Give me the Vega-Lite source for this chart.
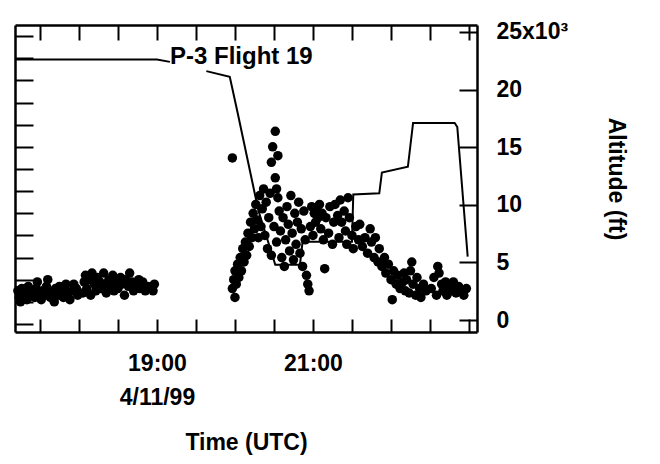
{
  "$schema": "https://vega.github.io/schema/vega-lite/v6.json",
  "autosize": "none",
  "width": 462,
  "height": 307,
  "padding": {"left": 15, "top": 25, "right": 183, "bottom": 132},
  "background": "white",
  "config": {
    "view": {"stroke": null},
    "axis": {
      "grid": false,
      "domainColor": "black",
      "domainWidth": 2.5,
      "tickColor": "black",
      "tickWidth": 2,
      "labelFont": "Liberation Sans",
      "labelFontSize": 23,
      "labelFontWeight": "bold",
      "labelColor": "black",
      "titleFont": "Liberation Sans",
      "titleFontSize": 23,
      "titleFontWeight": "bold",
      "titleColor": "black",
      "labelFlush": false,
      "labelOverlap": false
    }
  },
  "datasets": {
    "altitude": [
      {"t": "1999-04-11T17:11:00Z", "alt": 22600, "seg": 1},
      {"t": "1999-04-11T19:00:00Z", "alt": 22600, "seg": 1},
      {"t": "1999-04-11T19:10:00Z", "alt": 22400, "seg": 1},
      {"t": "1999-04-11T19:38:00Z", "alt": 21600, "seg": 2},
      {"t": "1999-04-11T19:56:00Z", "alt": 21100, "seg": 2},
      {"t": "1999-04-11T20:02:00Z", "alt": 18000, "seg": 2},
      {"t": "1999-04-11T20:18:00Z", "alt": 9500, "seg": 2},
      {"t": "1999-04-11T20:31:00Z", "alt": 4800, "seg": 2},
      {"t": "1999-04-11T20:50:00Z", "alt": 4800, "seg": 2},
      {"t": "1999-04-11T20:52:00Z", "alt": 6800, "seg": 2},
      {"t": "1999-04-11T21:30:00Z", "alt": 6800, "seg": 2},
      {"t": "1999-04-11T21:31:00Z", "alt": 10900, "seg": 2},
      {"t": "1999-04-11T21:51:00Z", "alt": 11000, "seg": 2},
      {"t": "1999-04-11T21:53:00Z", "alt": 12800, "seg": 2},
      {"t": "1999-04-11T22:13:00Z", "alt": 13300, "seg": 2},
      {"t": "1999-04-11T22:17:00Z", "alt": 17100, "seg": 2},
      {"t": "1999-04-11T22:49:00Z", "alt": 17100, "seg": 2},
      {"t": "1999-04-11T22:51:00Z", "alt": 16750, "seg": 2},
      {"t": "1999-04-11T22:59:00Z", "alt": 5500, "seg": 2}
    ],
    "label": [
      {"t": "1999-04-11T19:10:00Z", "alt": 22800, "text": "P-3 Flight 19"}
    ],
    "obs": [
      {"t": "1999-04-11T17:13:00Z", "v": 1.5}, {"t": "1999-04-11T17:14:00Z", "v": 1.2}, {"t": "1999-04-11T17:15:00Z", "v": 1.0},
      {"t": "1999-04-11T17:16:00Z", "v": 1.6}, {"t": "1999-04-11T17:17:00Z", "v": 1.3}, {"t": "1999-04-11T17:19:00Z", "v": 1.4},
      {"t": "1999-04-11T17:20:00Z", "v": 1.1}, {"t": "1999-04-11T17:21:00Z", "v": 1.7}, {"t": "1999-04-11T17:23:00Z", "v": 1.3},
      {"t": "1999-04-11T17:24:00Z", "v": 1.5}, {"t": "1999-04-11T17:26:00Z", "v": 1.2}, {"t": "1999-04-11T17:27:00Z", "v": 1.6},
      {"t": "1999-04-11T17:28:00Z", "v": 1.9}, {"t": "1999-04-11T17:29:00Z", "v": 1.4}, {"t": "1999-04-11T17:31:00Z", "v": 1.1},
      {"t": "1999-04-11T17:32:00Z", "v": 1.5}, {"t": "1999-04-11T17:34:00Z", "v": 1.3}, {"t": "1999-04-11T17:35:00Z", "v": 1.7},
      {"t": "1999-04-11T17:36:00Z", "v": 2.0}, {"t": "1999-04-11T17:37:00Z", "v": 1.5}, {"t": "1999-04-11T17:38:00Z", "v": 1.2},
      {"t": "1999-04-11T17:40:00Z", "v": 1.4}, {"t": "1999-04-11T17:41:00Z", "v": 1.0}, {"t": "1999-04-11T17:42:00Z", "v": 1.6},
      {"t": "1999-04-11T17:44:00Z", "v": 1.3}, {"t": "1999-04-11T17:45:00Z", "v": 1.7}, {"t": "1999-04-11T17:46:00Z", "v": 1.5},
      {"t": "1999-04-11T17:48:00Z", "v": 1.2}, {"t": "1999-04-11T17:49:00Z", "v": 1.6}, {"t": "1999-04-11T17:50:00Z", "v": 1.8},
      {"t": "1999-04-11T17:52:00Z", "v": 1.4}, {"t": "1999-04-11T17:53:00Z", "v": 1.1}, {"t": "1999-04-11T17:55:00Z", "v": 1.5},
      {"t": "1999-04-11T17:56:00Z", "v": 1.8}, {"t": "1999-04-11T17:58:00Z", "v": 1.6}, {"t": "1999-04-11T17:59:00Z", "v": 1.3},
      {"t": "1999-04-11T18:03:00Z", "v": 1.4}, {"t": "1999-04-11T18:04:00Z", "v": 1.9}, {"t": "1999-04-11T18:05:00Z", "v": 2.2},
      {"t": "1999-04-11T18:06:00Z", "v": 1.6}, {"t": "1999-04-11T18:08:00Z", "v": 2.0}, {"t": "1999-04-11T18:09:00Z", "v": 1.3},
      {"t": "1999-04-11T18:10:00Z", "v": 2.3}, {"t": "1999-04-11T18:12:00Z", "v": 1.8}, {"t": "1999-04-11T18:13:00Z", "v": 1.5},
      {"t": "1999-04-11T18:14:00Z", "v": 2.1}, {"t": "1999-04-11T18:16:00Z", "v": 1.9}, {"t": "1999-04-11T18:17:00Z", "v": 1.6},
      {"t": "1999-04-11T18:19:00Z", "v": 2.3}, {"t": "1999-04-11T18:20:00Z", "v": 1.8}, {"t": "1999-04-11T18:21:00Z", "v": 1.4},
      {"t": "1999-04-11T18:23:00Z", "v": 2.0}, {"t": "1999-04-11T18:24:00Z", "v": 1.7}, {"t": "1999-04-11T18:26:00Z", "v": 2.2},
      {"t": "1999-04-11T18:27:00Z", "v": 1.5}, {"t": "1999-04-11T18:29:00Z", "v": 1.9}, {"t": "1999-04-11T18:30:00Z", "v": 1.6},
      {"t": "1999-04-11T18:32:00Z", "v": 2.1}, {"t": "1999-04-11T18:33:00Z", "v": 1.8}, {"t": "1999-04-11T18:35:00Z", "v": 1.3},
      {"t": "1999-04-11T18:36:00Z", "v": 2.0}, {"t": "1999-04-11T18:38:00Z", "v": 1.7}, {"t": "1999-04-11T18:39:00Z", "v": 2.3},
      {"t": "1999-04-11T18:41:00Z", "v": 1.9}, {"t": "1999-04-11T18:42:00Z", "v": 1.5}, {"t": "1999-04-11T18:44:00Z", "v": 1.8},
      {"t": "1999-04-11T18:46:00Z", "v": 2.0}, {"t": "1999-04-11T18:47:00Z", "v": 1.6}, {"t": "1999-04-11T18:49:00Z", "v": 1.9},
      {"t": "1999-04-11T18:51:00Z", "v": 1.5}, {"t": "1999-04-11T18:53:00Z", "v": 1.7}, {"t": "1999-04-11T18:57:00Z", "v": 1.5},
      {"t": "1999-04-11T18:58:00Z", "v": 1.8},
      {"t": "1999-04-11T19:58:00Z", "v": 7.5},
      {"t": "1999-04-11T19:58:00Z", "v": 1.6}, {"t": "1999-04-11T19:59:00Z", "v": 2.0}, {"t": "1999-04-11T20:00:00Z", "v": 1.2},
      {"t": "1999-04-11T20:00:00Z", "v": 2.4}, {"t": "1999-04-11T20:01:00Z", "v": 1.8}, {"t": "1999-04-11T20:02:00Z", "v": 2.7},
      {"t": "1999-04-11T20:03:00Z", "v": 2.1}, {"t": "1999-04-11T20:04:00Z", "v": 3.0}, {"t": "1999-04-11T20:05:00Z", "v": 2.4},
      {"t": "1999-04-11T20:06:00Z", "v": 3.4}, {"t": "1999-04-11T20:07:00Z", "v": 2.8}, {"t": "1999-04-11T20:08:00Z", "v": 3.7},
      {"t": "1999-04-11T20:09:00Z", "v": 3.1}, {"t": "1999-04-11T20:10:00Z", "v": 4.1}, {"t": "1999-04-11T20:11:00Z", "v": 3.5},
      {"t": "1999-04-11T20:12:00Z", "v": 4.6}, {"t": "1999-04-11T20:13:00Z", "v": 3.9}, {"t": "1999-04-11T20:14:00Z", "v": 5.0},
      {"t": "1999-04-11T20:15:00Z", "v": 4.3}, {"t": "1999-04-11T20:16:00Z", "v": 5.4}, {"t": "1999-04-11T20:17:00Z", "v": 4.7},
      {"t": "1999-04-11T20:18:00Z", "v": 3.9}, {"t": "1999-04-11T20:19:00Z", "v": 5.8}, {"t": "1999-04-11T20:20:00Z", "v": 4.4},
      {"t": "1999-04-11T20:21:00Z", "v": 5.2}, {"t": "1999-04-11T20:22:00Z", "v": 6.1}, {"t": "1999-04-11T20:23:00Z", "v": 4.0},
      {"t": "1999-04-11T20:24:00Z", "v": 5.5}, {"t": "1999-04-11T20:25:00Z", "v": 3.4}, {"t": "1999-04-11T20:26:00Z", "v": 4.8},
      {"t": "1999-04-11T20:27:00Z", "v": 5.9}, {"t": "1999-04-11T20:28:00Z", "v": 3.1}, {"t": "1999-04-11T20:28:00Z", "v": 7.3},
      {"t": "1999-04-11T20:29:00Z", "v": 8.0}, {"t": "1999-04-11T20:31:00Z", "v": 8.7}, {"t": "1999-04-11T20:33:00Z", "v": 7.6},
      {"t": "1999-04-11T20:31:00Z", "v": 6.6}, {"t": "1999-04-11T20:32:00Z", "v": 6.1}, {"t": "1999-04-11T20:33:00Z", "v": 5.7},
      {"t": "1999-04-11T20:30:00Z", "v": 4.4}, {"t": "1999-04-11T20:32:00Z", "v": 3.7}, {"t": "1999-04-11T20:34:00Z", "v": 5.1},
      {"t": "1999-04-11T20:35:00Z", "v": 4.2}, {"t": "1999-04-11T20:36:00Z", "v": 3.0}, {"t": "1999-04-11T20:37:00Z", "v": 4.8},
      {"t": "1999-04-11T20:38:00Z", "v": 2.6}, {"t": "1999-04-11T20:39:00Z", "v": 3.8}, {"t": "1999-04-11T20:40:00Z", "v": 5.3},
      {"t": "1999-04-11T20:41:00Z", "v": 4.5}, {"t": "1999-04-11T20:42:00Z", "v": 3.3}, {"t": "1999-04-11T20:43:00Z", "v": 5.8},
      {"t": "1999-04-11T20:44:00Z", "v": 4.1}, {"t": "1999-04-11T20:45:00Z", "v": 2.9}, {"t": "1999-04-11T20:46:00Z", "v": 5.0},
      {"t": "1999-04-11T20:47:00Z", "v": 3.6}, {"t": "1999-04-11T20:48:00Z", "v": 4.6}, {"t": "1999-04-11T20:49:00Z", "v": 5.5},
      {"t": "1999-04-11T20:50:00Z", "v": 3.2}, {"t": "1999-04-11T20:51:00Z", "v": 4.3}, {"t": "1999-04-11T20:52:00Z", "v": 2.6},
      {"t": "1999-04-11T20:53:00Z", "v": 5.1}, {"t": "1999-04-11T20:54:00Z", "v": 3.8}, {"t": "1999-04-11T20:55:00Z", "v": 2.2},
      {"t": "1999-04-11T20:56:00Z", "v": 1.8}, {"t": "1999-04-11T20:57:00Z", "v": 1.5}, {"t": "1999-04-11T20:58:00Z", "v": 4.4},
      {"t": "1999-04-11T20:59:00Z", "v": 5.3}, {"t": "1999-04-11T21:00:00Z", "v": 4.0}, {"t": "1999-04-11T21:01:00Z", "v": 5.0},
      {"t": "1999-04-11T21:02:00Z", "v": 4.6}, {"t": "1999-04-11T21:03:00Z", "v": 5.2}, {"t": "1999-04-11T21:04:00Z", "v": 4.8},
      {"t": "1999-04-11T21:05:00Z", "v": 5.4}, {"t": "1999-04-11T21:06:00Z", "v": 4.3}, {"t": "1999-04-11T21:07:00Z", "v": 5.0},
      {"t": "1999-04-11T21:08:00Z", "v": 3.8}, {"t": "1999-04-11T21:09:00Z", "v": 2.5}, {"t": "1999-04-11T21:10:00Z", "v": 4.8},
      {"t": "1999-04-11T21:12:00Z", "v": 4.1}, {"t": "1999-04-11T21:13:00Z", "v": 5.3}, {"t": "1999-04-11T21:15:00Z", "v": 3.6},
      {"t": "1999-04-11T21:16:00Z", "v": 4.6}, {"t": "1999-04-11T21:17:00Z", "v": 5.4}, {"t": "1999-04-11T21:19:00Z", "v": 4.9},
      {"t": "1999-04-11T21:20:00Z", "v": 3.9}, {"t": "1999-04-11T21:21:00Z", "v": 5.6}, {"t": "1999-04-11T21:22:00Z", "v": 4.6},
      {"t": "1999-04-11T21:24:00Z", "v": 5.1}, {"t": "1999-04-11T21:25:00Z", "v": 4.2}, {"t": "1999-04-11T21:26:00Z", "v": 3.6},
      {"t": "1999-04-11T21:27:00Z", "v": 5.7}, {"t": "1999-04-11T21:28:00Z", "v": 4.8}, {"t": "1999-04-11T21:30:00Z", "v": 4.0},
      {"t": "1999-04-11T21:31:00Z", "v": 3.4}, {"t": "1999-04-11T21:33:00Z", "v": 4.4}, {"t": "1999-04-11T21:35:00Z", "v": 3.8},
      {"t": "1999-04-11T21:36:00Z", "v": 4.5}, {"t": "1999-04-11T21:38:00Z", "v": 3.5}, {"t": "1999-04-11T21:40:00Z", "v": 3.9},
      {"t": "1999-04-11T21:42:00Z", "v": 3.2}, {"t": "1999-04-11T21:44:00Z", "v": 4.3}, {"t": "1999-04-11T21:45:00Z", "v": 3.7},
      {"t": "1999-04-11T21:47:00Z", "v": 3.0}, {"t": "1999-04-11T21:48:00Z", "v": 3.9}, {"t": "1999-04-11T21:50:00Z", "v": 2.8},
      {"t": "1999-04-11T21:51:00Z", "v": 3.4}, {"t": "1999-04-11T21:53:00Z", "v": 2.6}, {"t": "1999-04-11T21:55:00Z", "v": 3.0},
      {"t": "1999-04-11T21:56:00Z", "v": 2.3}, {"t": "1999-04-11T21:58:00Z", "v": 2.7}, {"t": "1999-04-11T22:00:00Z", "v": 2.0},
      {"t": "1999-04-11T22:01:00Z", "v": 1.1}, {"t": "1999-04-11T22:02:00Z", "v": 2.4}, {"t": "1999-04-11T22:04:00Z", "v": 1.8},
      {"t": "1999-04-11T22:05:00Z", "v": 2.2}, {"t": "1999-04-11T22:07:00Z", "v": 1.6},
      {"t": "1999-04-11T22:09:00Z", "v": 1.9}, {"t": "1999-04-11T22:10:00Z", "v": 2.3}, {"t": "1999-04-11T22:11:00Z", "v": 1.5},
      {"t": "1999-04-11T22:12:00Z", "v": 2.0}, {"t": "1999-04-11T22:14:00Z", "v": 1.4}, {"t": "1999-04-11T22:15:00Z", "v": 2.4},
      {"t": "1999-04-11T22:16:00Z", "v": 2.8}, {"t": "1999-04-11T22:17:00Z", "v": 1.8}, {"t": "1999-04-11T22:19:00Z", "v": 1.3},
      {"t": "1999-04-11T22:20:00Z", "v": 2.1}, {"t": "1999-04-11T22:22:00Z", "v": 1.6}, {"t": "1999-04-11T22:23:00Z", "v": 1.2},
      {"t": "1999-04-11T22:25:00Z", "v": 1.8}, {"t": "1999-04-11T22:27:00Z", "v": 1.5},
      {"t": "1999-04-11T22:31:00Z", "v": 1.6}, {"t": "1999-04-11T22:33:00Z", "v": 2.1}, {"t": "1999-04-11T22:35:00Z", "v": 1.3},
      {"t": "1999-04-11T22:36:00Z", "v": 2.6}, {"t": "1999-04-11T22:37:00Z", "v": 2.3}, {"t": "1999-04-11T22:39:00Z", "v": 1.8},
      {"t": "1999-04-11T22:40:00Z", "v": 1.5}, {"t": "1999-04-11T22:42:00Z", "v": 1.9}, {"t": "1999-04-11T22:43:00Z", "v": 1.3},
      {"t": "1999-04-11T22:45:00Z", "v": 1.7}, {"t": "1999-04-11T22:47:00Z", "v": 1.5}, {"t": "1999-04-11T22:48:00Z", "v": 1.9},
      {"t": "1999-04-11T22:50:00Z", "v": 1.4}, {"t": "1999-04-11T22:52:00Z", "v": 1.7}, {"t": "1999-04-11T22:54:00Z", "v": 1.5},
      {"t": "1999-04-11T22:56:00Z", "v": 1.3}, {"t": "1999-04-11T22:58:00Z", "v": 1.6}
    ]
  },
  "layer": [
    {
      "data": {"name": "altitude"},
      "mark": {"type": "line", "color": "black", "strokeWidth": 2},
      "encoding": {
        "x": {
          "field": "t",
          "type": "temporal",
          "scale": {"type": "utc", "domain": [923850648000, 923871970000]},
          "axis": {
            "orient": "bottom",
            "title": "Time (UTC)",
            "titlePadding": 22,
            "values": [923851800000, 923853600000, 923855400000, 923857200000, 923859000000, 923860800000, 923862600000, 923864400000, 923866200000, 923868000000, 923869800000, 923871600000],
            "labelExpr": "utchours(datum.value) == 19 && utcminutes(datum.value) == 0 ? ['19:00', '4/11/99'] : (utchours(datum.value) == 21 && utcminutes(datum.value) == 0 ? '21:00' : '')",
            "labelLineHeight": 34,
            "tickSize": -13,
            "labelPadding": 33,
            "encode": {"ticks": {"update": {"y2": {"signal": "utcminutes(datum.value) == 30 ? -8 : -13"}}}}
          }
        },
        "y": {
          "field": "alt",
          "type": "quantitative",
          "scale": {"domain": [-1040, 25600], "nice": false, "zero": false},
          "axis": {
            "orient": "right",
            "title": "Altitude (ft)",
            "titleAngle": 90,
            "titlePadding": 36,
            "values": [0, 5000, 10000, 15000, 20000, 25000],
            "labelExpr": "datum.value == 25000 ? '25x10³' : format(datum.value / 1000, 'd')",
            "tickSize": -18,
            "labelPadding": 37,
            "labelAlign": "left"
          }
        },
        "detail": {"field": "seg", "type": "nominal"}
      }
    },
    {
      "data": {"name": "obs"},
      "mark": {"type": "point", "filled": true, "shape": "circle", "size": 90, "color": "black", "opacity": 1},
      "encoding": {
        "x": {
          "field": "t",
          "type": "temporal",
          "axis": {
            "orient": "top",
            "title": null,
            "labels": false,
            "values": [923851800000, 923853600000, 923855400000, 923857200000, 923859000000, 923860800000, 923862600000, 923864400000, 923866200000, 923868000000, 923869800000, 923871600000],
            "tickSize": -15,
            "encode": {"ticks": {"update": {"y2": {"signal": "utcminutes(datum.value) == 30 ? 10 : 16"}}}}
          }
        },
        "y": {
          "field": "v",
          "type": "quantitative",
          "scale": {"domain": [-0.36, 13.5], "nice": false, "zero": false},
          "axis": {
            "orient": "left",
            "title": null,
            "labels": false,
            "values": [0, 1, 2, 3, 4, 5, 6, 7, 8, 9, 10, 11, 12, 13],
            "tickSize": -18,
            "encode": {"ticks": {"update": {"x2": {"signal": "datum.value % 2 == 1 ? 18 : 10"}}}}
          }
        }
      }
    },
    {
      "data": {"name": "label"},
      "mark": {"type": "text", "align": "left", "baseline": "middle", "font": "Liberation Sans", "fontSize": 24, "fontWeight": "bold", "color": "black"},
      "encoding": {
        "x": {"field": "t", "type": "temporal", "axis": null},
        "y": {"field": "alt", "type": "quantitative", "scale": {"domain": [-1040, 25600], "nice": false, "zero": false}, "axis": null},
        "text": {"field": "text", "type": "nominal"}
      }
    }
  ],
  "resolve": {
    "scale": {"y": "independent"},
    "axis": {"x": "independent", "y": "independent"}
  }
}
